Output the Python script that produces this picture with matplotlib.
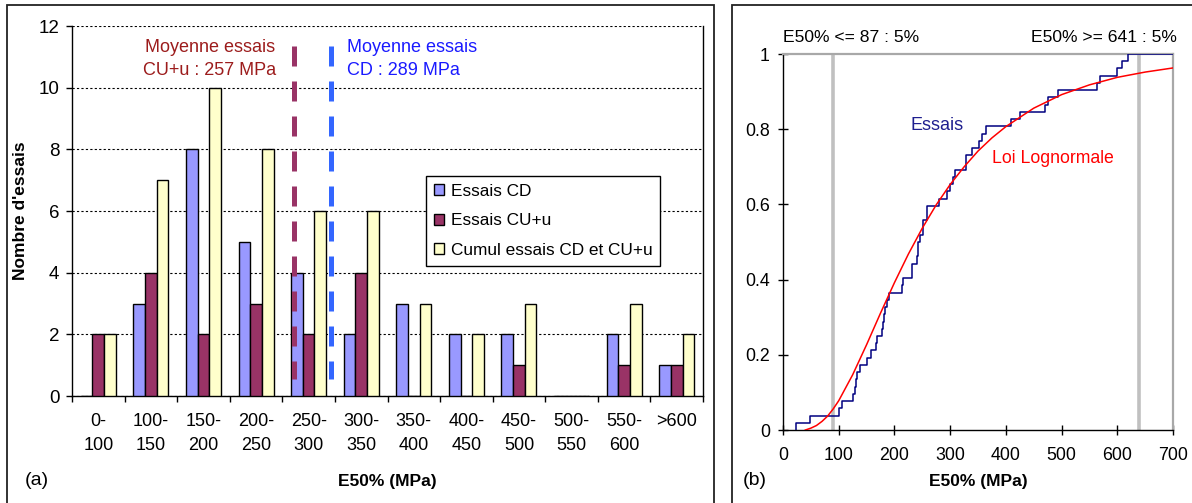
import numpy as np
import matplotlib
matplotlib.use('Agg')
import matplotlib.pyplot as plt
from matplotlib.patches import Rectangle, Patch

plt.rcParams['font.family'] = ['Liberation Sans', 'DejaVu Sans']

# (a) histogram data
classes = ['0-\n100', '100-\n150', '150-\n200', '200-\n250', '250-\n300', '300-\n350',
           '350-\n400', '400-\n450', '450-\n500', '500-\n550', '550-\n600', '>600']
essais_cd = [0, 3, 8, 5, 4, 2, 3, 2, 2, 0, 2, 1]
essais_cuu = [2, 4, 2, 3, 2, 4, 0, 0, 1, 0, 1, 1]
cumul = [2, 7, 10, 8, 6, 6, 3, 2, 3, 0, 3, 2]
moyennes = {'CU+u': 257, 'CD': 289}

# (b) individual test values (MPa)
essais_e50 = [23, 49, 100, 105, 125, 130, 131, 132, 138, 150, 157, 166, 168, 177, 179,
              181, 183, 186, 190, 213, 216, 231, 232, 241, 242, 243, 245, 252, 252, 258,
              258, 280, 294, 300, 305, 309, 328, 328, 339, 352, 358, 364, 409, 425, 470,
              476, 494, 563, 569, 599, 608, 619]
# lognormal curve
loi_x = [40, 50, 60, 70, 80, 90, 100, 125, 150, 175, 200, 225, 250, 275, 300, 325, 350,
         375, 400, 450, 500, 550, 600, 650, 700]
loi_y = [0.0, 0.005, 0.012, 0.023, 0.037, 0.056, 0.078, 0.147, 0.227, 0.311, 0.392, 0.468,
         0.537, 0.599, 0.653, 0.700, 0.742, 0.777, 0.807, 0.856, 0.892, 0.918, 0.938,
         0.952, 0.963]
quantiles = [87, 641]

C_CD = '#9999FF'
C_CU = '#993366'
C_CUMUL = '#FFFFCC'

fig = plt.figure(figsize=(11.92, 5.03), dpi=100)

# panel frames
fig.add_artist(Rectangle((7/1192., -0.05), 707/1192., 1.0407, transform=fig.transFigure,
                         fill=False, lw=1.3, edgecolor='#222222'))
fig.add_artist(Rectangle((732/1192., -0.05), 0.5, 1.0407, transform=fig.transFigure,
                         fill=False, lw=1.3, edgecolor='#222222'))

# ---------------- (a)
ax1 = fig.add_axes([0.0604, 0.2127, 0.5294, 0.7356])
x = np.arange(len(classes))
w = 0.222
ax1.bar(x - w, essais_cd, w, color=C_CD, edgecolor='black', lw=1, zorder=3, label='Essais CD')
ax1.bar(x, essais_cuu, w, color=C_CU, edgecolor='black', lw=1, zorder=3, label='Essais CU+u')
ax1.bar(x + w, cumul, w, color=C_CUMUL, edgecolor='black', lw=1, zorder=3,
        label='Cumul essais CD et CU+u')

# mean lines (placed like in the original sheet)
ax1.plot([3.716, 3.716], [11.35, 0.55], color=C_CU, lw=3.6, dashes=(4, 3), zorder=5)
ax1.plot([4.426, 4.426], [11.35, 0.55], color='#3366FF', lw=3.6, dashes=(4, 3), zorder=5)
ax1.text(2.125, 10.93, 'Moyenne essais\nCU+u : %d MPa' % moyennes['CU+u'], color='#9C1C1C',
         fontsize=13, ha='center', va='center', linespacing=1.5)
ax1.text(4.736, 10.93, 'Moyenne essais\nCD : %d MPa' % moyennes['CD'], color='#1A1AFF',
         fontsize=13, ha='left', va='center', linespacing=1.5)

ax1.set_xlim(-0.5, 11.5)
ax1.set_ylim(0, 12)
ax1.set_yticks(range(0, 13, 2))
ax1.yaxis.grid(True, linestyle=(0, (2, 2)), color='black', lw=0.8)
ax1.set_axisbelow(True)
ax1.set_xticks(x)
ax1.set_xticklabels(classes)
for t in ax1.get_xticklabels():
    t.set_linespacing(1.55)
ax1.set_xticks(np.arange(-0.5, 12, 1), minor=True)
ax1.tick_params(axis='x', which='major', length=0, pad=12, labelsize=13)
ax1.tick_params(axis='x', which='minor', length=4, direction='out', width=1)
ax1.tick_params(axis='y', length=4, direction='out', width=1, labelsize=13.5, pad=5)
ax1.spines['top'].set_visible(False)
for s in ['left', 'bottom', 'right']:
    ax1.spines[s].set_linewidth(1)
ax1.set_ylabel("Nombre d'essais", fontsize=12.5, fontweight='bold')
ax1.yaxis.set_label_coords(-0.07, 0.5)
ax1.set_xlabel('E50% (MPa)', fontsize=12.5, fontweight='bold')
ax1.xaxis.set_label_coords(0.5, -0.21)

handles = [Patch(facecolor=c, edgecolor='black', lw=1) for c in [C_CD, C_CU, C_CUMUL]]
leg = ax1.legend(handles, ['Essais CD', 'Essais CU+u', 'Cumul essais CD et CU+u'],
                 loc='upper left', bbox_to_anchor=(0.561, 0.595), borderaxespad=0,
                 fontsize=12.4, fancybox=False, framealpha=1, edgecolor='black',
                 handlelength=0.6, handleheight=0.6, handletextpad=0.4,
                 labelspacing=0.85, borderpad=0.45)
leg.get_frame().set_linewidth(1)
leg.set_zorder(6)

fig.text(25/1192., 0.0457, '(a)', fontsize=14, va='center', ha='left')

# ---------------- (b)
ax2 = fig.add_axes([0.6569, 0.1451, 0.3272, 0.7475])
n = len(essais_e50)
vals = sorted(essais_e50)
xs = [vals[0]] + vals + [700]
ys = [0] + [(i + 1) / float(n) for i in range(n)] + [1]
ax2.step(xs, ys, where='post', color='#000080', lw=1.1, zorder=4)
ax2.plot(loi_x, loi_y, color='#FF0000', lw=1.1, zorder=5)

for q in [90, 639]:
    ax2.axvline(q, color='#C0C0C0', lw=2.6, zorder=2)

ax2.text(229, 0.811, 'Essais', color='#1F1F8F', fontsize=13, va='center', ha='left')
ax2.text(374.6, 0.7226, 'Loi Lognormale', color='#FF0000', fontsize=12.7, va='center',
         ha='left')
ax2.text(0.0, 1.045, 'E50%% <= %d : 5%%' % quantiles[0], transform=ax2.transAxes,
         fontsize=12.6, va='center', ha='left')
ax2.text(1.01, 1.045, 'E50%% >= %d : 5%%' % quantiles[1], transform=ax2.transAxes,
         fontsize=12.6, va='center', ha='right')

ax2.set_xlim(0, 700)
ax2.set_ylim(0, 1)
ax2.set_xticks(range(0, 701, 100))
ax2.set_yticks([0, 0.2, 0.4, 0.6, 0.8, 1])
ax2.set_yticklabels(['0', '0.2', '0.4', '0.6', '0.8', '1'])
ax2.tick_params(axis='both', direction='inout', length=7, width=1, labelsize=12.8)
ax2.tick_params(axis='x', pad=9)
ax2.tick_params(axis='y', pad=6)
ax2.spines['top'].set_color('#A8A8A8')
ax2.spines['right'].set_color('#A8A8A8')
ax2.spines['top'].set_linewidth(1.6)
ax2.spines['right'].set_linewidth(1.6)
ax2.spines['left'].set_linewidth(1)
ax2.spines['bottom'].set_linewidth(1)
ax2.set_xlabel('E50% (MPa)', fontsize=12.5, fontweight='bold')
ax2.xaxis.set_label_coords(0.5, -0.118)

fig.text(743/1192., 0.0457, '(b)', fontsize=14, va='center', ha='left')

fig.savefig('out.png', dpi=100)
